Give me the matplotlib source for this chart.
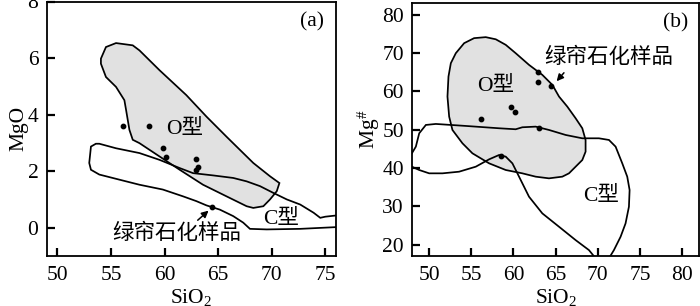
import matplotlib
matplotlib.use("Agg")
import matplotlib.pyplot as plt
from matplotlib.patches import Polygon

plt.rcParams['font.family'] = ['Liberation Serif', 'Noto Sans CJK SC']
plt.rcParams['mathtext.fontset'] = 'custom'
plt.rcParams['mathtext.rm'] = 'Liberation Serif'
plt.rcParams['mathtext.it'] = 'Liberation Serif:italic'

# ---- Panel (a): SiO2 vs MgO ----
a_O_x = [54.06, 54.53, 55.47, 57.03, 57.66, 59.53, 62.03, 63.91, 65.78, 66.72, 68.28, 69.84, 70.72,
         70.47, 69.84, 69.22, 68.28, 67.66, 65.78, 63.59, 61.41, 59.53, 57.66, 57.03, 56.72, 56.41,
         56.25, 55.47, 54.53, 54.06]
a_O_y = [5.98, 6.39, 6.53, 6.45, 6.27, 5.57, 4.69, 3.93, 3.22, 2.87, 2.29, 1.82, 1.58,
         1.29, 1.00, 0.76, 0.70, 0.76, 1.11, 1.52, 2.05, 2.52, 2.99, 3.11, 3.46, 4.16,
         4.51, 4.98, 5.33, 5.80]
a_C_x = [53.59, 53.13, 52.97, 53.13, 53.91, 55.78, 57.66, 59.84, 61.72, 62.97, 63.91, 65.16, 66.41,
         67.34, 67.97, 69.53, 72.66, 75.94, 77.0, 77.0, 75.94, 75.0, 74.53, 73.91, 72.66, 71.41,
         70.16, 68.91, 67.66, 66.41, 64.53, 62.66, 61.41, 59.53, 57.66, 55.47, 53.91]
a_C_y = [2.97, 2.87, 2.29, 2.05, 1.88, 1.70, 1.52, 1.35, 1.11, 0.94, 0.79, 0.64, 0.41,
         0.18, -0.04, -0.06, -0.04, 0.02, 0.03, 0.43, 0.43, 0.39, 0.35, 0.53, 0.82, 1.00,
         1.23, 1.47, 1.64, 1.76, 1.85, 1.93, 2.11, 2.40, 2.64, 2.81, 2.97]
a_pts_x = [56.09, 58.59, 59.84, 60.16, 62.97, 63.13, 62.90, 64.44]
a_pts_y = [3.61, 3.58, 2.81, 2.50, 2.43, 2.13, 2.03, 0.74]

# ---- Panel (b): SiO2 vs Mg# ----
b_O_x = [55.33, 56.71, 57.90, 59.08, 60.26, 61.84, 63.42, 64.61, 65.40, 66.38, 67.37, 68.16, 68.55,
         68.55, 68.16, 67.37, 66.58, 65.79, 64.21, 62.63, 61.05, 59.08, 57.11, 55.13, 53.95, 52.76,
         52.37, 52.17, 52.29, 52.57, 53.16, 54.15]
b_O_y = [73.9, 74.16, 73.6, 72.15, 69.97, 66.92, 64.31, 61.69, 58.64, 56.02, 52.97, 50.36, 47.31,
         44.25, 42.07, 40.33, 38.59, 37.72, 37.28, 37.72, 38.59, 39.46, 41.2, 43.82, 46.43, 49.92,
         53.41, 58.64, 63.87, 67.36, 69.97, 72.59]
b_C_x = [47.24, 47.95, 48.42, 48.82, 49.61, 50.79, 54.34, 58.29, 60.26, 61.05, 62.63, 64.21, 66.19,
         68.16, 70.13, 71.32, 72.11, 72.90, 73.49, 73.77, 73.69, 73.29, 72.70, 71.91, 71.32, 69.74,
         68.95, 67.37, 65.40, 63.42, 61.84, 60.66, 59.87, 59.08, 58.29, 57.11, 55.53, 53.55, 51.58,
         50.00, 48.82, 47.95, 47.24]
b_C_y = [44.25, 43.82, 45.56, 49.05, 51.23, 51.49, 50.97, 50.36, 50.1, 50.62, 50.79, 49.92, 48.61,
         47.74, 47.74, 47.31, 45.56, 41.2, 37.72, 34.23, 29.87, 25.51, 22.02, 18.54, 16.4, 16.4,
         18.54, 21.15, 24.64, 28.13, 32.49, 37.72, 41.2, 42.95, 43.38, 42.25, 40.33, 39.02, 38.59,
         38.59, 39.46, 40.33, 40.77]
b_pts_x = [56.12, 59.75, 60.15, 62.95, 62.87, 63.03, 64.45, 58.57]
b_pts_y = [52.71, 55.85, 54.72, 65.09, 62.56, 50.36, 61.43, 43.12]

a_xticks = [50, 55, 60, 65, 70, 75]
a_yticks = [0, 2, 4, 6, 8]
b_xticks = [50, 55, 60, 65, 70, 75, 80]
b_yticks = [20, 30, 40, 50, 60, 70, 80]

FS = 15.5
fig = plt.figure(figsize=(7.0, 3.06), dpi=100)
axa = fig.add_axes([46.7/700, 1-256/306, (336-46.7)/700, (256-1.5)/306])
axb = fig.add_axes([412.3/700, 1-256/306, (699-412.3)/700, (256-3.3)/306])

def style(ax):
    for s in ax.spines.values():
        s.set_linewidth(1.3)
    ax.tick_params(direction='in', length=6, width=1.6, labelsize=FS, top=False, right=False)
    ax.tick_params(axis='x', pad=7.5)
    ax.tick_params(axis='y', pad=6)

# Panel a
axa.add_patch(Polygon(list(zip(a_O_x, a_O_y)), closed=True, facecolor='#e1e1e1', edgecolor='black', lw=1.25, zorder=1))
axa.add_patch(Polygon(list(zip(a_C_x, a_C_y)), closed=True, facecolor='none', edgecolor='black', lw=1.25, zorder=2))
axa.scatter(a_pts_x, a_pts_y, s=10, color='black', zorder=3)
axa.set_xlim(49, 76)
axa.set_ylim(-1, 8)
axa.set_xticks(a_xticks)
axa.set_yticks(a_yticks)
style(axa)
axa.set_xlabel('SiO$_2$', fontsize=FS, labelpad=1)
axa.set_ylabel('MgO', fontsize=FS, labelpad=-1)
axa.text(73.75, 7.27, '(a)', fontsize=FS, ha='center', va='center')
axa.text(61.9, 3.46, 'O型', fontsize=FS, ha='center', va='center')
axa.text(70.9, 0.29, 'C型', fontsize=FS, ha='center', va='center')
axa.text(61.1, -0.23, '绿帘石化样品', fontsize=FS, ha='center', va='center')
axa.annotate('', xy=(64.3, 0.67), xytext=(62.9, 0.2),
             arrowprops=dict(arrowstyle='-|>', color='black', lw=1.1, mutation_scale=10))

# Panel b
axb.add_patch(Polygon(list(zip(b_O_x, b_O_y)), closed=True, facecolor='#e1e1e1', edgecolor='black', lw=1.25, zorder=1))
axb.add_patch(Polygon(list(zip(b_C_x, b_C_y)), closed=True, facecolor='none', edgecolor='black', lw=1.25, zorder=2))
axb.scatter(b_pts_x, b_pts_y, s=10, color='black', zorder=3)
axb.set_xlim(48, 82)
axb.set_ylim(17, 83)
axb.set_xticks(b_xticks)
axb.set_yticks(b_yticks)
style(axb)
axb.set_xlabel('SiO$_2$', fontsize=FS, labelpad=1)
axb.set_ylabel('Mg$^{\\#}$', fontsize=FS, labelpad=0)
axb.text(79.2, 77.8, '(b)', fontsize=FS, ha='center', va='center')
axb.text(57.9, 61.4, 'O型', fontsize=FS, ha='center', va='center')
axb.text(70.33, 32.5, 'C型', fontsize=FS, ha='center', va='center')
axb.text(71.3, 68.7, '绿帘石化样品', fontsize=FS, ha='center', va='center')
axb.annotate('', xy=(64.9, 62.1), xytext=(66.2, 65.4),
             arrowprops=dict(arrowstyle='-|>', color='black', lw=1.1, mutation_scale=10))

fig.savefig('out.png', dpi=100)
